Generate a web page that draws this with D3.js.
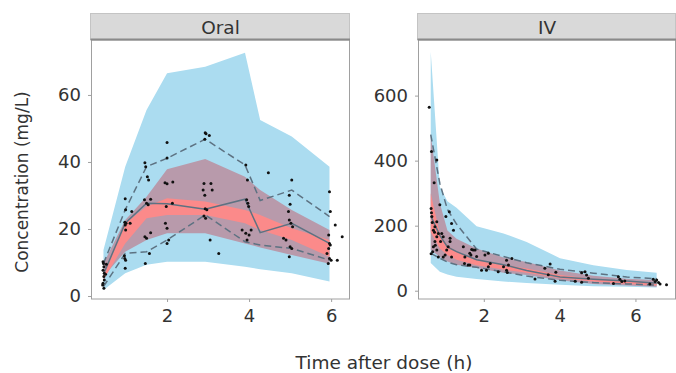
<!DOCTYPE html>
<html><head><meta charset="utf-8">
<script src="https://cdn.jsdelivr.net/npm/d3@7"></script>
<style>
html,body{margin:0;padding:0;background:#fff;}
text{font-family:"DejaVu Sans",sans-serif;fill:#333;}
</style></head>
<body><svg id="c" width="676" height="373"></svg>
<script>
// ---------- data ----------
const panels = ["Oral", "IV"];
const xTicks = [2, 4, 6];
const oralYTicks = [0, 20, 40, 60];
const ivYTicks = [0, 200, 400, 600];

// Oral: bin times and bands
const oralBins   = [0.45, 0.98, 1.5, 2.0, 2.93, 3.9, 4.27, 5.04, 5.96];
const oralPIhi   = [13.7, 38.6, 55.5, 66.5, 68.4, 72.6, 52.5, 47.6, 38.6];
const oralPIlo   = [1.8, 6.8, 9.3, 10.2, 10.2, 8.7, 8.0, 6.8, 4.3];
const oralMidHi  = [9.7, 22.7, 29.6, 37.8, 40.9, 35.6, 31.6, 25.7, 19.7];
const oralMidLo  = [5.8, 13.2, 16.7, 18.7, 18.7, 15.7, 14.5, 12.2, 9.6];
const oralMedHi  = [6.8, 21.7, 26.7, 29.2, 28.2, 25.7, 24.2, 20.2, 16.7];
const oralMedLo  = [4.8, 15.7, 23.2, 24.2, 24.2, 21.7, 19.7, 16.7, 11.7];
const oralObsMed = [6.5, 21.7, 27.7, 27.5, 25.9, 28.9, 18.9, 21.7, 15.7];
const oralObsP95 = [9.7, 25.7, 38.6, 41.1, 46.8, 39.1, 28.5, 31.6, 23.7];
const oralObsP05 = [2.8, 12.7, 13.2, 16.7, 24.2, 16.2, 15.2, 14.2, 10.7];
const oralTime = [0.44,0.45,0.46,0.44,0.47,0.46,0.47,0.44,0.46,0.43,0.5,0.52,
  0.98,0.99,0.97,1.0,0.98,0.99,0.97,0.99,0.98,1.14,1.1,0.96,
  1.46,1.48,1.52,1.55,1.45,1.5,1.54,1.46,1.5,1.57,1.47,1.6,1.6,
  2.0,2.0,1.95,2.0,1.98,1.96,2.0,2.0,2.04,2.14,2.13,
  2.93,2.95,2.92,2.9,2.88,2.92,2.93,2.97,2.9,2.94,3.03,3.07,3.1,3.26,3.05,
  3.92,3.96,3.94,3.97,3.99,3.83,3.92,4.0,4.05,3.95,4.47,
  5.04,4.98,5.0,4.96,4.98,5.02,5.06,4.84,4.9,5.0,5.04,4.98,
  5.96,5.98,5.94,5.96,5.98,5.94,5.9,5.96,6.0,5.93,6.1,6.27,6.15];
const oralConc = [10.2,9.7,8.7,7.7,6.8,5.8,4.8,3.8,2.3,3.3,6.5,9.5,
  29,25.7,22,21.7,21.2,19.7,11.2,10.7,8.3,25.2,21.7,12.0,
  39.8,38.6,35.6,34.6,28.7,27.7,27.2,17.7,17.2,12.7,9.7,28.9,18.9,
  45.8,41.2,33.8,33.5,26.7,21.7,20.2,15.7,16.7,34,27.7,
  48.7,48.4,46.8,33.6,31.6,30.1,26,25.7,23.9,23.2,47.9,33.6,31.6,12.7,16.7,
  39.1,34.6,28.7,27.7,26.7,19.7,18.7,18.2,19.7,16.7,36.8,
  34.6,30.1,27.4,25.2,22.7,21.7,20.7,17.2,16.7,14.7,14.2,11.7,
  31.1,25.2,18.2,15.7,15.2,14.2,12.7,11.2,10.7,9.7,21.2,17.7,10.7];

// IV: bin times and bands
const ivBins   = [0.6, 0.84, 1.04, 1.28, 1.81, 2.52, 3.13, 4.01, 4.89, 5.77, 6.56];
const ivPIhi   = [735, 320, 275, 255, 198, 176, 150, 100, 78, 64, 55];
const ivPIlo   = [85, 58, 50, 43, 36, 28, 24, 18, 14, 12, 10];
const ivMidHi  = [480, 270, 185, 160, 130, 102, 88, 62, 46, 37, 33];
const ivMidLo  = [125, 104, 90, 80, 70, 55, 48, 32, 21, 16, 12];
const ivMedHi  = [300, 175, 140, 120, 95, 80, 68, 48, 36, 28, 24];
const ivMedLo  = [180, 130, 110, 95, 78, 65, 55, 38, 28, 21, 16];
const ivObsMed = [230, 170, 135, 120, 95, 80, 62, 42, 35, 30, 23];
const ivObsP95 = [480, 330, 250, 205, 128, 105, 86, 66, 54, 42, 37];
const ivObsP05 = [115, 100, 88, 80, 72, 58, 45, 32, 25, 21, 17];
const ivTime = [0.56,0.62,0.76,0.69,0.61,0.62,0.63,0.76,0.71,0.67,0.8,0.76,0.89,0.93,0.86,0.71,0.67,0.76,0.61,0.8,0.93,0.98,1.02,1.06,1.11,1.11,1.15,0.84,1.0,1.09,1.15,1.2,0.65,0.72,0.7,0.64,
  1.46,1.5,1.63,1.68,1.72,1.66,1.49,1.59,1.63,1.94,2.12,2.12,2.17,2.07,2.38,2.6,2.65,2.6,2.62,2.74,1.77,1.81,2.03,2.52,
  3.61,3.75,3.70,3.90,3.35,3.88,4.41,4.58,4.67,4.71,4.76,4.58,5.42,5.55,5.59,5.64,5.72,6.47,6.52,6.56,6.61,6.38,6.82,6.65];
const ivConc = [564,428,402,332,253,240,228,212,197,186,176,166,176,166,151,151,135,125,114,104,104,110,125,135,151,161,104,264,228,243,207,186,120,140,180,210,
  135,104,115,127,125,110,84,79,79,63,115,74,84,63,58,94,79,63,56,99,125,105,110,74,
  69,82,49,57,36,29,29,55,58,48,38,26,22,43,35,28,30,35,28,33,25,21,18,21];

// ---------- drawing ----------
const svg = d3.select("#c");
const cfg = [
  {name: panels[0], x0: 91, x1: 350, xd: [0.146, 6.46], yd: [-0.9, 76.4], yt: oralYTicks,
   bins: oralBins, pi: [oralPIlo, oralPIhi], mid: [oralMidLo, oralMidHi], med: [oralMedLo, oralMedHi],
   obs: [oralObsMed, oralObsP95, oralObsP05], t: oralTime, c: oralConc},
  {name: panels[1], x0: 418, x1: 676, xd: [0.264, 7.07], yd: [-25.5, 771], yt: ivYTicks,
   bins: ivBins, pi: [ivPIlo, ivPIhi], mid: [ivMidLo, ivMidHi], med: [ivMedLo, ivMedHi],
   obs: [ivObsMed, ivObsP95, ivObsP05], t: ivTime, c: ivConc}
];
const plotTop = 40, plotBottom = 299;

cfg.forEach(p => {
  const x = d3.scaleLinear().domain(p.xd).range([p.x0, p.x1]);
  const y = d3.scaleLinear().domain(p.yd).range([plotBottom, plotTop]);
  const g = svg.append("g");
  const clipId = "clip" + p.name;
  svg.append("clipPath").attr("id", clipId).append("rect")
    .attr("x", p.x0).attr("y", plotTop).attr("width", p.x1 - p.x0).attr("height", plotBottom - plotTop);
  const pg = g.append("g").attr("clip-path", `url(#${clipId})`);

  const band = (lo, hi, col) => {
    const area = d3.area().x((d, i) => x(p.bins[i])).y0((d, i) => y(lo[i])).y1((d, i) => y(hi[i]));
    pg.append("path").attr("d", area(p.bins)).attr("fill", col);
  };
  band(p.pi[0], p.pi[1], "#abdcf0");
  band(p.mid[0], p.mid[1], "#b89aab");
  band(p.med[0], p.med[1], "#fb8a8a");

  const line = vals => d3.line().x((d, i) => x(p.bins[i])).y((d, i) => y(vals[i]))(p.bins);
  pg.append("path").attr("d", line(p.obs[0])).attr("fill", "none").attr("stroke", "#5d7282").attr("stroke-width", 1.5);
  [p.obs[1], p.obs[2]].forEach(v => {
    pg.append("path").attr("d", line(v)).attr("fill", "none").attr("stroke", "#5d7282")
      .attr("stroke-width", 1.5).attr("stroke-dasharray", "7,4");
  });

  pg.selectAll("circle.pt").data(p.t).enter().append("circle")
    .attr("cx", d => x(d)).attr("cy", (d, i) => y(p.c[i])).attr("r", 1.5).attr("fill", "#111");

  // frame
  g.append("rect").attr("x", p.x0 + 0.5).attr("y", plotTop).attr("width", p.x1 - p.x0 - 1).attr("height", plotBottom - plotTop)
    .attr("fill", "none").attr("stroke", "#a0a0a0").attr("stroke-width", 1);

  // strip
  g.append("rect").attr("x", p.x0 - 0.5).attr("y", 13.5).attr("width", p.x1 - p.x0).attr("height", 26)
    .attr("fill", "#d9d9d9").attr("stroke", "#c4c4c4");
  g.append("line").attr("x1", p.x0 - 0.5).attr("x2", p.x1).attr("y1", 39.5).attr("y2", 39.5)
    .attr("stroke", "#8a8a8a").attr("stroke-width", 2);
  g.append("text").attr("x", (p.x0 + p.x1) / 2).attr("y", 33.5).attr("text-anchor", "middle")
    .attr("font-size", 18.5).text(p.name);

  // axes
  const ax = g.append("g").attr("transform", `translate(0,${plotBottom})`)
    .call(d3.axisBottom(x).tickValues(xTicks).tickSize(3).tickPadding(7).tickFormat(d3.format("d")));
  const ay = g.append("g").attr("transform", `translate(${p.x0},0)`)
    .call(d3.axisLeft(y).tickValues(p.yt).tickSize(3).tickPadding(7).tickFormat(d3.format("d")));
  [ax, ay].forEach(a => {
    a.select(".domain").remove();
    a.selectAll(".tick line").attr("stroke", "#a0a0a0");
    a.selectAll(".tick text").attr("font-size", 18).attr("fill", "#333")
      .style("font-family", "'DejaVu Sans', sans-serif");
  });
});

svg.append("text").attr("x", 384).attr("y", 369).attr("text-anchor", "middle")
  .attr("font-size", 18.5).text("Time after dose (h)");
svg.append("text").attr("transform", "translate(28,182) rotate(-90)").attr("text-anchor", "middle")
  .attr("font-size", 17).text("Concentration (mg/L)");
</script></body></html>
